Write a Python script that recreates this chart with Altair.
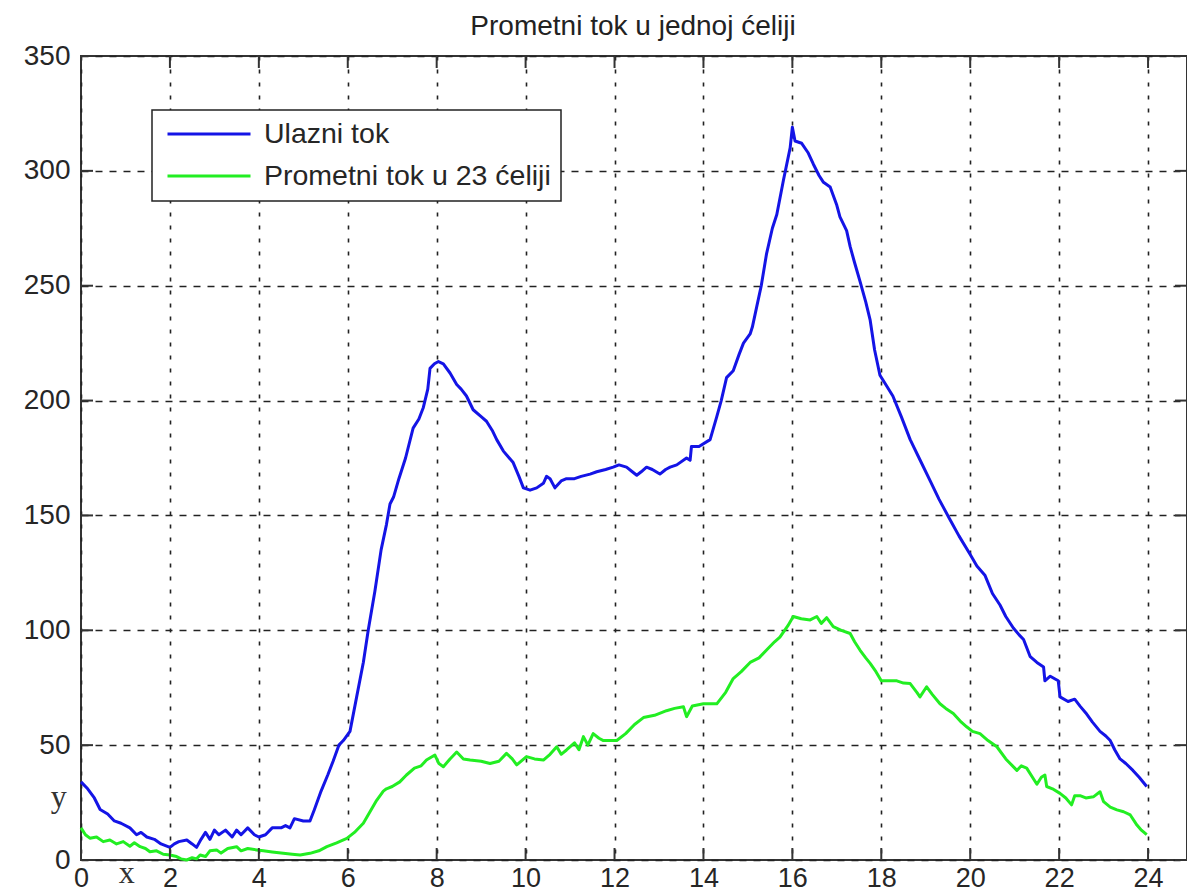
import altair as alt
import pandas as pd

# ---- data ----
chart_title = ["Prometni tok u jednoj ćeliji"]
series_names = ["Ulazni tok", "Prometni tok u 23 ćeliji"]
series_colors = ["#1414e6", "#22ee22"]

hours_in = [0.0, 0.15, 0.3, 0.43, 0.6, 0.75, 0.9, 1.1, 1.25, 1.35, 1.48, 1.65, 1.8, 2.0, 2.1, 2.2,
            2.38, 2.5, 2.6, 2.7, 2.8, 2.9, 3.0, 3.1, 3.25, 3.4, 3.5, 3.6, 3.75, 3.9, 4.0, 4.15,
            4.3, 4.5, 4.6, 4.7, 4.8, 5.0, 5.15, 5.25, 5.4, 5.55, 5.67, 5.8, 5.9, 6.05, 6.2, 6.35,
            6.46, 6.61, 6.75, 6.87, 6.95, 7.03, 7.15, 7.3, 7.47, 7.6, 7.7, 7.8, 7.85, 7.95, 8.04,
            8.15, 8.3, 8.45, 8.55, 8.67, 8.82, 9.0, 9.12, 9.25, 9.35, 9.5, 9.72, 9.85, 9.95, 10.1,
            10.25, 10.4, 10.47, 10.55, 10.66, 10.8, 10.92, 11.1, 11.25, 11.45, 11.6, 11.8, 11.97,
            12.1, 12.27, 12.4, 12.5, 12.6, 12.72, 12.85, 13.02, 13.15, 13.25, 13.4, 13.62, 13.7,
            13.73, 13.9, 14.15, 14.3, 14.4, 14.52, 14.67, 14.8, 14.9, 15.05, 15.1, 15.2, 15.3,
            15.42, 15.55, 15.65, 15.8, 15.95, 16.0, 16.06, 16.21, 16.35, 16.47, 16.6, 16.7, 16.85,
            17.0, 17.07, 17.22, 17.3, 17.4, 17.52, 17.65, 17.75, 17.85, 17.97, 18.1, 18.26, 18.45,
            18.65, 18.85, 19.1, 19.3, 19.55, 19.75, 20.0, 20.15, 20.33, 20.5, 20.67, 20.8, 20.97,
            21.1, 21.2, 21.35, 21.5, 21.65, 21.68, 21.8, 21.98, 22.02, 22.2, 22.35, 22.47, 22.6,
            22.75, 22.92, 23.05, 23.15, 23.25, 23.37, 23.5, 23.66, 23.8, 23.97]
flow_in = [34, 31, 27, 22, 20, 17, 16, 14, 11, 12, 10, 9, 7, 5.5, 7, 8,
           8.7, 7, 5.5, 9, 12, 9, 13, 11, 13, 10, 13, 11, 14, 11, 10, 11,
           14, 14, 15, 14, 18, 17, 17, 22, 30, 37, 43, 50, 52, 56, 71, 86,
           100, 117, 135, 146, 155, 158, 166, 175, 188, 192, 197, 205, 214, 216, 217,
           216, 212, 207, 205, 202, 196, 193, 191, 187, 183, 178, 173, 167, 162, 161,
           162, 164, 167, 166, 162, 165, 166, 166, 167, 168, 169, 170, 171,
           172, 171, 169, 167.5, 169, 171, 170, 168, 170, 171, 172, 175, 174,
           180, 180, 183, 193, 200, 210, 213, 220, 225, 229, 232, 241, 250,
           264, 275, 281, 296, 310, 319, 313, 312, 308, 303, 298, 295, 293,
           285, 280, 274, 267, 260, 252, 243, 235, 222, 211, 207, 202, 193,
           183, 175, 165, 157, 148, 141, 133, 128, 124, 116, 111, 106, 101,
           98, 96, 88.5, 86, 84, 78, 80, 78, 71, 69, 70, 67, 64,
           60, 56, 54, 52, 48, 44, 42, 39, 36, 32]

hours_23 = [0.0, 0.1, 0.2, 0.35, 0.5, 0.65, 0.8, 0.95, 1.1, 1.2, 1.33, 1.45, 1.55, 1.7, 1.85, 2.0,
            2.15, 2.25, 2.38, 2.5, 2.6, 2.68, 2.8, 2.9, 3.05, 3.15, 3.3, 3.5, 3.6, 3.75, 3.95,
            4.1, 4.3, 4.55, 4.75, 4.93, 5.15, 5.35, 5.53, 5.75, 5.98, 6.15, 6.35, 6.5, 6.65, 6.8,
            6.87, 7.0, 7.17, 7.32, 7.5, 7.65, 7.77, 7.96, 8.05, 8.15, 8.3, 8.45, 8.6, 8.75, 9.0,
            9.2, 9.4, 9.57, 9.7, 9.8, 10.02, 10.2, 10.4, 10.55, 10.7, 10.8, 10.92, 11.1, 11.2,
            11.3, 11.4, 11.52, 11.65, 11.75, 12.05, 12.25, 12.45, 12.65, 12.9, 13.17, 13.35,
            13.55, 13.62, 13.75, 14.0, 14.3, 14.5, 14.67, 14.85, 15.05, 15.25, 15.42, 15.6,
            15.72, 15.9, 16.02, 16.2, 16.4, 16.55, 16.65, 16.77, 16.92, 17.1, 17.3, 17.4, 17.52,
            17.65, 17.75, 17.88, 18.0, 18.2, 18.35, 18.5, 18.65, 18.8, 18.87, 19.02, 19.15,
            19.32, 19.45, 19.62, 19.8, 19.92, 20.05, 20.22, 20.4, 20.6, 20.8, 21.05, 21.15,
            21.27, 21.4, 21.5, 21.6, 21.68, 21.72, 21.85, 22.02, 22.15, 22.28, 22.35, 22.47,
            22.6, 22.77, 22.92, 23.0, 23.15, 23.3, 23.45, 23.6, 23.75, 23.85, 23.97]
flow_23 = [14, 11, 9.5, 10, 8, 8.7, 7, 8, 6, 7.5, 5.8, 5, 3.6, 4, 2.5, 2.2,
           1.5, 0.5, 0, 1, 0.5, 2.2, 1.5, 4, 4.4, 3, 5, 5.8, 4, 5, 4.4,
           4, 3.5, 2.9, 2.5, 2.2, 2.9, 4, 5.8, 7.5, 9.4, 12, 16, 21, 26, 30,
           31, 32, 34, 37, 40, 41, 43.5, 45.7, 42, 40.6, 44, 47, 44, 43.5, 43,
           42, 43, 46.4, 44, 41.4, 45, 44, 43.5, 46, 49.3, 46, 47.9, 51, 48,
           53.7, 50, 55, 53, 52, 52, 55, 59, 62, 63, 65, 66,
           66.7, 62.4, 67, 68, 68, 73, 79, 82, 86, 88, 91.4, 95,
           97, 102, 106, 105, 104.5, 106, 103, 105.5, 101.6, 100, 98.6, 95, 91.4,
           88, 85.6, 82, 78, 78, 78, 77, 76.8, 73, 71, 75.4, 72,
           68, 66, 63.8, 60, 58, 56, 55, 52, 49.3, 44, 39, 41,
           40, 36, 33, 36, 37, 32, 31, 29, 27, 24, 28, 28,
           27, 27.5, 29.7, 25.4, 23, 21.8, 21, 19.6, 15.2, 13, 11]

x_ticks = list(range(0, 25, 2))
y_ticks = list(range(0, 351, 50))
x_domain = [0, 24.876]   # reference frame is cropped just right of 24
y_domain = [0, 350]

ann_text = ["y", "x"]
ann_h = [-0.5, 1.03]
ann_v = [23.1, -10.0]

# ---- build tables ----
df = pd.concat([
    pd.DataFrame({"h": hours_in, "v": flow_in, "s": series_names[0]}),
    pd.DataFrame({"h": hours_23, "v": flow_23, "s": series_names[1]}),
], ignore_index=True)
xt = pd.DataFrame({"h": x_ticks})
yt = pd.DataFrame({"v": y_ticks})
ann = pd.DataFrame({"h": ann_h, "v": ann_v, "t": ann_text})
ttl = pd.DataFrame({"t": chart_title})

W, H = 1106, 804
FONT = "Liberation Sans"
TXT = "#262626"
TICK = "#333333"

x_scale = alt.Scale(domain=x_domain, nice=False, zero=False)
y_scale = alt.Scale(domain=y_domain, nice=False, zero=False)

x_axis = alt.Axis(values=x_ticks, title=None, grid=True, gridColor="#222222", gridDash=[4, 9],
                  gridWidth=1.6, ticks=False, domain=False, labelFontSize=27, labelFont=FONT,
                  labelColor=TXT, labelPadding=5, labelFlush=False, labelOverlap=False, format="d")
y_axis = alt.Axis(values=y_ticks, title=None, grid=True, gridColor="#222222", gridDash=[7, 7],
                  gridWidth=1.6, ticks=False, domain=False, labelFontSize=28, labelFont=FONT,
                  labelColor=TXT, labelPadding=11, labelOverlap=False, format="d")

X = alt.X("h:Q", scale=x_scale, axis=x_axis)
Y = alt.Y("v:Q", scale=y_scale, axis=y_axis)

lines = alt.Chart(df).mark_line(strokeWidth=3, strokeJoin="round").encode(
    x=X, y=Y,
    color=alt.Color("s:N", sort=series_names,
                    scale=alt.Scale(domain=series_names, range=series_colors),
                    legend=alt.Legend(title=None, orient="none", legendX=71, legendY=54,
                                      symbolType="stroke", symbolSize=6889, symbolStrokeWidth=3,
                                      labelFontSize=28.5, labelFont=FONT, labelColor=TXT,
                                      padding=10, clipHeight=28, rowPadding=13,
                                      strokeColor="#222222", fillColor="white",
                                      symbolOffset=4, labelOffset=12, labelLimit=600)),
)

top_ticks = alt.Chart(xt).mark_rule(color=TICK, strokeWidth=2).encode(
    x=X, y=alt.value(0), y2=alt.value(12))
bot_ticks = alt.Chart(xt).mark_rule(color=TICK, strokeWidth=2).encode(
    x=X, y=alt.value(H - 12), y2=alt.value(H))
left_ticks = alt.Chart(yt).mark_rule(color=TICK, strokeWidth=2).encode(
    y=Y, x=alt.value(0), x2=alt.value(12))
right_ticks = alt.Chart(yt).mark_rule(color=TICK, strokeWidth=2).encode(
    y=Y, x=alt.value(W - 12), x2=alt.value(W))

notes = alt.Chart(ann).mark_text(font="Liberation Serif", fontSize=32, color="#333333",
                                 align="center", baseline="alphabetic").encode(
    x=X, y=Y, text="t:N")

title_mark = alt.Chart(ttl).mark_text(font=FONT, fontSize=28, color="#222222", align="center",
                                      baseline="alphabetic").encode(
    x=alt.value(552), y=alt.value(-21), text="t:N")

chart = alt.layer(lines, top_ticks, bot_ticks, left_ticks, right_ticks, notes, title_mark).properties(
    width=W, height=H,
    autosize=alt.AutoSizeParams(type="none"),
    padding={"left": 73, "top": 48, "right": 0, "bottom": 28},
    background="white",
).configure_view(stroke="#333333", strokeWidth=2).configure_legend(strokeWidth=1.5)

chart.save("out.html", embed_options={"renderer": "svg", "actions": False})
